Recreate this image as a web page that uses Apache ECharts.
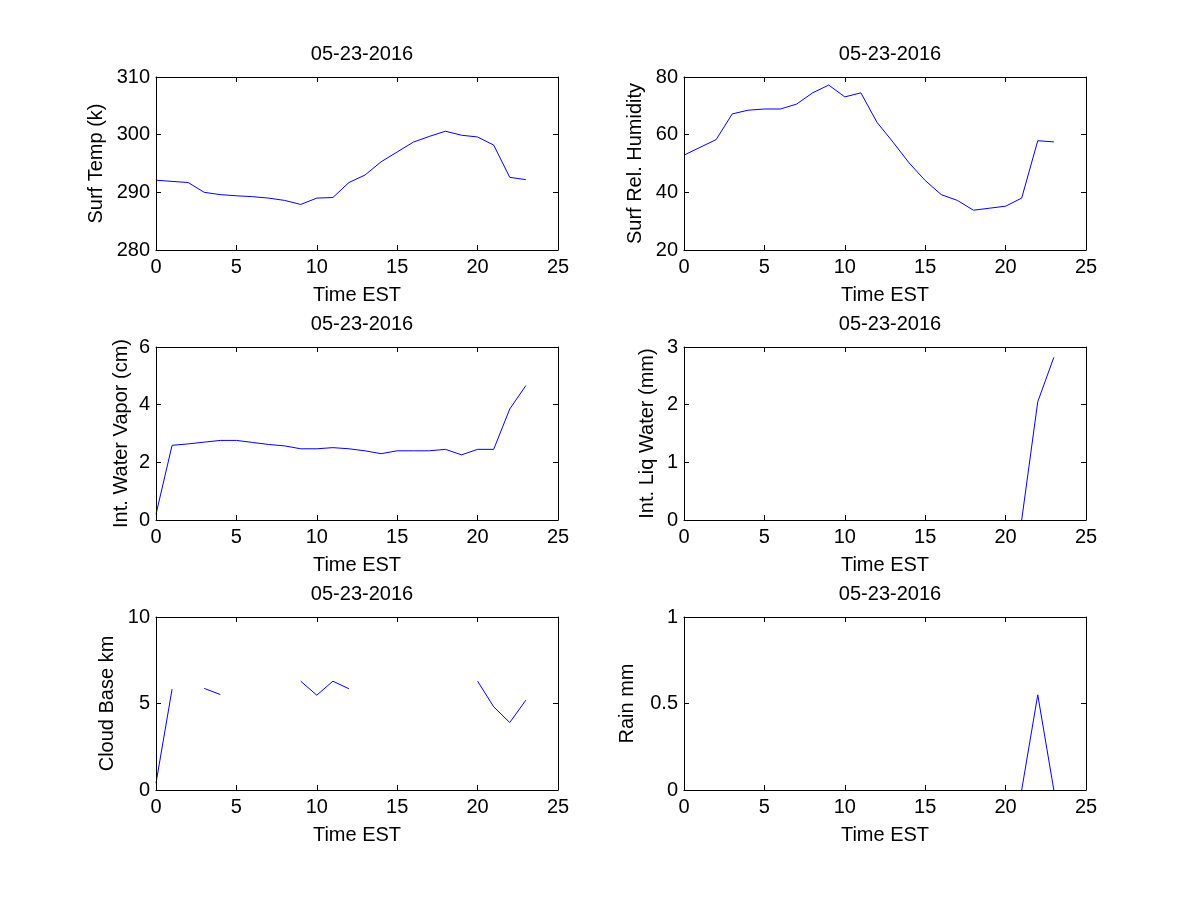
<!DOCTYPE html>
<html>
<head>
<meta charset="utf-8">
<script src="https://cdn.jsdelivr.net/npm/echarts@6/dist/echarts.min.js"></script>
<style>
html,body{margin:0;padding:0;background:#fff;}
#chart{width:1200px;height:900px;}
</style>
</head>
<body>
<div id="chart"></div>
<script>
// ---- data ----
const hours = [0,1,2,3,4,5,6,7,8,9,10,11,12,13,14,15,16,17,18,19,20,21,22,23];
const dateLabel = '05-23-2016';
const xName = 'Time EST';
const xTicks = [0,5,10,15,20,25];

const surfTemp = [292.1,291.9,291.7,290.0,289.6,289.4,289.25,289.0,288.6,287.9,289.0,289.1,291.7,293.0,295.3,297.0,298.7,299.7,300.6,299.9,299.6,298.2,292.6,292.2];
const surfRH = [52.9,55.6,58.3,67.2,68.5,68.9,68.9,70.6,74.5,77.2,73.1,74.5,64.3,57.4,50.2,44.1,39.2,37.2,33.8,34.5,35.2,38.0,57.9,57.5];
const waterVapor = [0.2,2.59,2.64,2.70,2.76,2.76,2.69,2.62,2.57,2.47,2.47,2.51,2.47,2.40,2.30,2.40,2.40,2.40,2.45,2.26,2.45,2.45,3.85,4.66];
const liqWater = [null,null,null,null,null,null,null,null,null,null,null,null,null,null,null,null,null,null,null,null,null,0,2.05,2.82];
const cloudBase = [0.4,5.83,null,5.87,5.52,null,null,null,null,6.29,5.48,6.29,5.85,null,null,null,null,null,null,null,6.29,4.81,3.90,5.19];
const rain = [null,null,null,null,null,null,null,null,null,null,null,null,null,null,null,null,null,null,null,null,null,0,0.55,0];

const panels = [
  {name:'Surf Temp (k)', data:surfTemp, min:280, max:310, interval:10, gap:50},
  {name:'Surf Rel. Humidity', data:surfRH, min:20, max:80, interval:20, gap:39},
  {name:'Int. Water Vapor (cm)', data:waterVapor, min:0, max:6, interval:2, gap:25},
  {name:'Int. Liq Water (mm)', data:liqWater, min:0, max:3, interval:1, gap:27},
  {name:'Cloud Base km', data:cloudBase, min:0, max:10, interval:5, gap:39},
  {name:'Rain mm', data:rain, min:0, max:1, interval:0.5, gap:47}
];

// ---- layout ----
const lefts = [156, 684];
const tops = [77, 347, 617];
const W = 402, H = 173;
const FONT = '"Liberation Sans", Arial, Helvetica, sans-serif';
const txt = {color:'#000', fontFamily:FONT, fontSize:20};

const grids = [], xAxes = [], yAxes = [], series = [], titles = [];
panels.forEach((p, i) => {
  const col = i % 2, row = Math.floor(i / 2);
  grids.push({left:lefts[col], top:tops[row], width:W, height:H, containLabel:false});
  const lineStyle = {color:'#000', width:1};
  const tick = {show:true, inside:true, length:5, lineStyle:{color:'#000', width:1}};
  xAxes.push({type:'value', gridIndex:i, position:'bottom', min:0, max:25, interval:5, z:5,
    axisLine:{show:true, onZero:false, lineStyle}, axisTick:tick, splitLine:{show:false},
    axisLabel:Object.assign({margin:7}, txt),
    name:xName, nameLocation:'middle', nameGap:35, nameTextStyle:txt});
  xAxes.push({type:'value', gridIndex:i, position:'top', min:0, max:25, interval:5, z:5,
    axisLine:{show:true, onZero:false, lineStyle}, axisTick:tick, splitLine:{show:false},
    axisLabel:{show:false}});
  yAxes.push({type:'value', gridIndex:i, position:'left', min:p.min, max:p.max, interval:p.interval, z:5,
    axisLine:{show:true, onZero:false, lineStyle}, axisTick:tick, splitLine:{show:false},
    axisLabel:Object.assign({margin:6}, txt),
    name:p.name, nameLocation:'middle', nameGap:p.gap, nameRotate:90, nameTextStyle:txt});
  yAxes.push({type:'value', gridIndex:i, position:'right', min:p.min, max:p.max, interval:p.interval, z:5,
    axisLine:{show:true, onZero:false, lineStyle}, axisTick:tick, splitLine:{show:false},
    axisLabel:{show:false}});
  series.push({type:'line', xAxisIndex:2*i, yAxisIndex:2*i, showSymbol:false, symbol:'none',
    connectNulls:false, clip:true, animation:false,
    lineStyle:{color:'#0000ff', width:1}, data:hours.map((h, k) => [h, p.data[k]])});
  titles.push({text:dateLabel, left:lefts[col] + W / 2, top:tops[row] - 38, textAlign:'center',
    textStyle:Object.assign({fontWeight:'normal'}, txt)});
});

const chart = echarts.init(document.getElementById('chart'), null, {renderer:'canvas'});
chart.setOption({
  backgroundColor:'#fff',
  animation:false,
  title:titles,
  grid:grids,
  xAxis:xAxes,
  yAxis:yAxes,
  series:series
});
</script>
</body>
</html>
